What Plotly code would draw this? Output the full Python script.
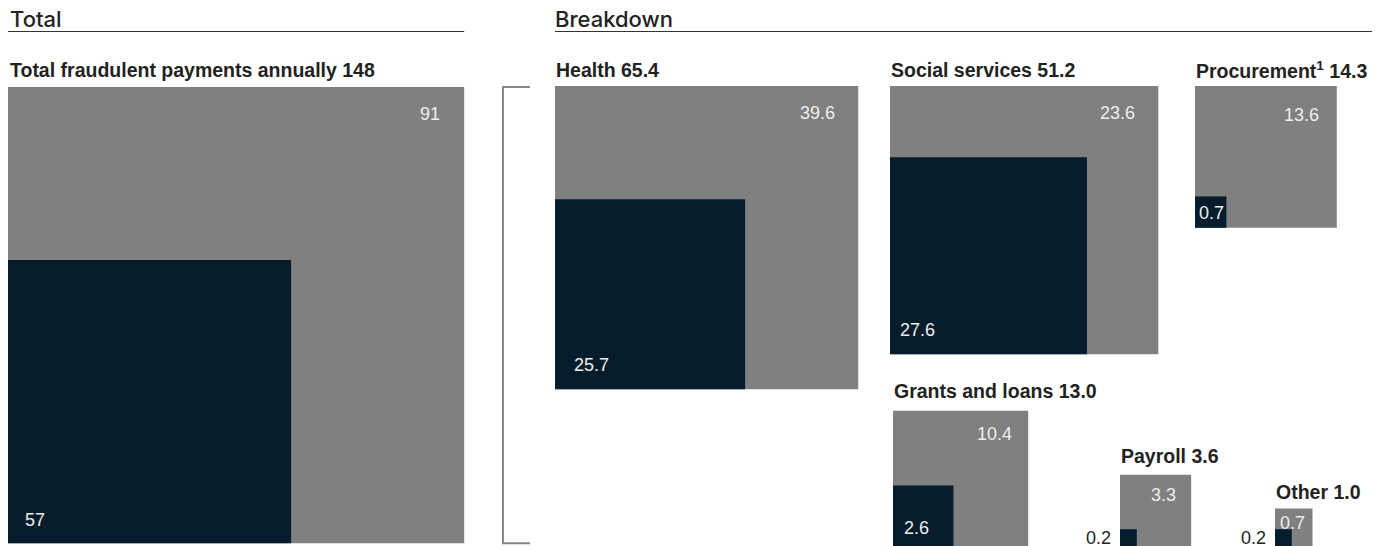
import math
import plotly.graph_objects as go

# ---------------- data ----------------
categories = ["Total fraudulent payments annually", "Health", "Social services",
              "Procurement<sup>1</sup>", "Grants and loans", "Payroll", "Other"]
totals = [148, 65.4, 51.2, 14.3, 13.0, 3.6, 1.0]
gray_values = [91, 39.6, 23.6, 13.6, 10.4, 3.3, 0.7]
dark_values = [57, 25.7, 27.6, 0.7, 2.6, 0.2, 0.2]
section_titles = ["Total", "Breakdown"]

# ---------------- layout / style ----------------
W, H = 1380, 546
OFF = 8  # default page body margin; axes are shifted so data units == screen pixels
K = 37.5  # pixels per sqrt(unit): square area proportional to value
GRAY = "#808080"
DARK = "#051c2c"
TEXT = "#222222"
LIGHT = "#eeeeee"
FONT = "Liberation Sans, Arial, sans-serif"
HFONT = "Inter, Liberation Sans, sans-serif"

panels = [
    dict(left=8,    y=87,  anchor="top",    tgap=17, pr=22, pt=27, pl=15, pb=23, outside=False),
    dict(left=555,  y=86,  anchor="top",    tgap=16, pr=21, pt=27, pl=17, pb=24, outside=False),
    dict(left=890,  y=86,  anchor="top",    tgap=16, pr=21, pt=27, pl=8,  pb=24, outside=False),
    dict(left=1195, y=86,  anchor="top",    tgap=16, pr=16, pt=29, pl=2,  pb=15, outside=False),
    dict(left=893,  y=546, anchor="bottom", tgap=20, pr=14, pt=23, pl=9,  pb=18, outside=False),
    dict(left=1120, y=546, anchor="bottom", tgap=19, pr=13, pt=20, pl=7,  pb=8,  outside=True),
    dict(left=1275, y=546, anchor="bottom", tgap=17, pr=6,  pt=14, pl=7,  pb=8,  outside=True),
]


def fmt(v):
    return f"{v:.0f}" if v >= 50 and float(v).is_integer() else f"{v:.1f}"


fig = go.Figure()
shapes = []
annotations = []

geom = []
for cat, tot, g, d, p in zip(categories, totals, gray_values, dark_values, panels):
    s = K * math.sqrt(tot)
    ds = K * math.sqrt(d)
    x0 = p["left"]
    top = p["y"] if p["anchor"] == "top" else p["y"] - s
    bottom = top + s
    geom.append((x0, top, s, bottom))
    shapes.append(dict(type="rect", xref="x", yref="y", x0=x0, x1=x0 + s, y0=top, y1=bottom,
                       fillcolor=GRAY, line=dict(width=0), layer="below"))
    shapes.append(dict(type="rect", xref="x", yref="y", x0=x0, x1=x0 + ds, y0=bottom - ds, y1=bottom,
                       fillcolor=DARK, line=dict(width=0), layer="below"))
    tot_txt = f"{tot:.0f}" if tot >= 100 else f"{tot:.1f}"
    annotations.append(dict(x=max(x0 - 1, OFF), y=top - p["tgap"], xref="x", yref="y",
                            text=f"<b>{cat} {tot_txt}</b>",
                            showarrow=False, xanchor="left", yanchor="middle",
                            font=dict(family=FONT, size=19.5, color=TEXT)))
    annotations.append(dict(x=x0 + s - p["pr"], y=top + p["pt"], xref="x", yref="y",
                            text=fmt(g), showarrow=False, xanchor="right", yanchor="middle",
                            font=dict(family=FONT, size=18, color=LIGHT)))
    if p["outside"]:
        annotations.append(dict(x=x0 - p["pl"], y=bottom - ds / 2, xref="x", yref="y",
                                text=fmt(d), showarrow=False, xanchor="right", yanchor="middle",
                                font=dict(family=FONT, size=18, color=TEXT)))
    else:
        annotations.append(dict(x=x0 + p["pl"], y=bottom - p["pb"], xref="x", yref="y",
                                text=fmt(d), showarrow=False, xanchor="left", yanchor="middle",
                                font=dict(family=FONT, size=18, color=LIGHT)))

# section headings + rules
tx0, ttop, ts, tbot = geom[0]
sections = [(section_titles[0], tx0, tx0 + ts), (section_titles[1], panels[1]["left"], W)]
for title, a, b in sections:
    annotations.append(dict(x=max(a - 2, OFF), y=19, xref="x", yref="y", text=title, showarrow=False,
                            xanchor="left", yanchor="middle",
                            font=dict(family=HFONT, size=22, color=TEXT, weight=500)))
    shapes.append(dict(type="line", xref="x", yref="y", x0=a, x1=b, y0=31.5, y1=31.5,
                       line=dict(color="#333333", width=1)))

# bracket linking total to breakdown
bx = 503
shapes.append(dict(type="path", xref="x", yref="y",
                   path=f"M 530 {ttop} L {bx} {ttop} L {bx} {tbot} L 530 {tbot}",
                   line=dict(color="#888888", width=2)))

fig.update_layout(
    width=W, height=H,
    margin=dict(l=0, r=0, t=0, b=0),
    paper_bgcolor="white", plot_bgcolor="white",
    xaxis=dict(range=[OFF, W + OFF], visible=False, fixedrange=True),
    yaxis=dict(range=[H + OFF, OFF], visible=False, fixedrange=True),
    shapes=shapes, annotations=annotations, showlegend=False,
)

fig.write_html("out.html")
